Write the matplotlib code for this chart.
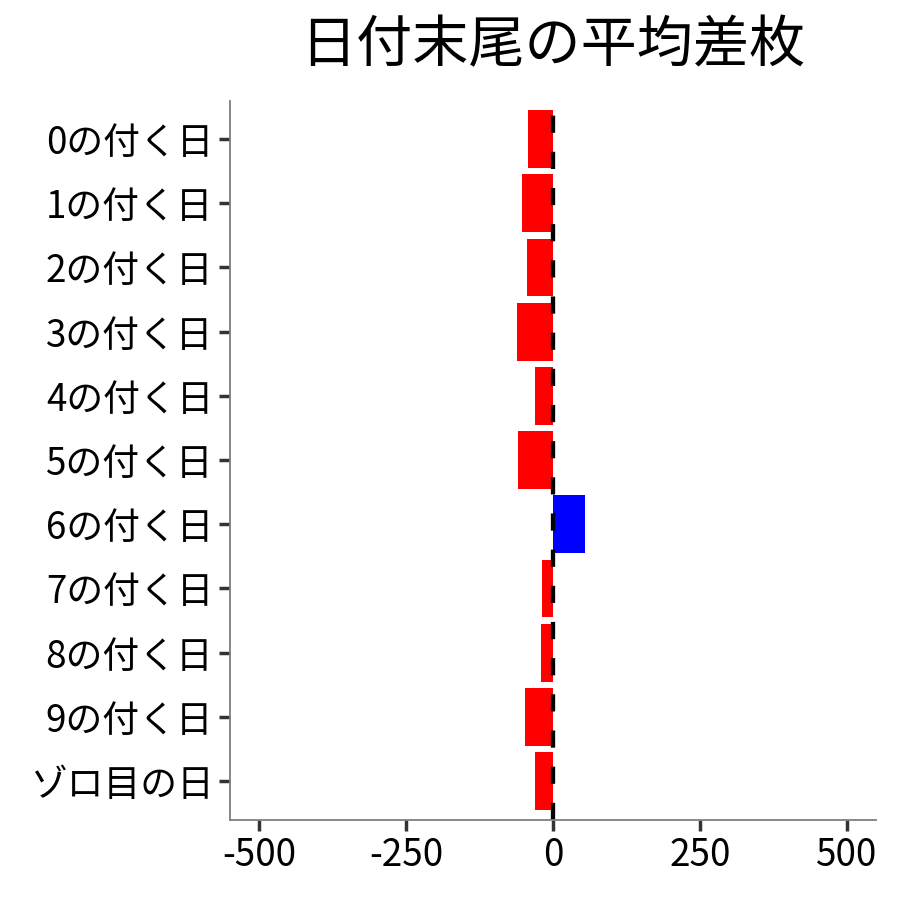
import matplotlib
matplotlib.use("Agg")
import matplotlib.pyplot as plt

plt.rcParams['font.family'] = ['Noto Sans CJK JP', 'DejaVu Sans']

categories = ["0の付く日", "1の付く日", "2の付く日", "3の付く日", "4の付く日",
              "5の付く日", "6の付く日", "7の付く日", "8の付く日", "9の付く日", "ゾロ目の日"]
values = [-43, -53, -45, -62, -31, -60, 54, -18, -21, -48, -31]
xticks = [-500, -250, 0, 250, 500]
xticklabels = ["-500", "-250", "0", "250", "500"]

fig = plt.figure(figsize=(9, 9), dpi=100)
ax = fig.add_axes([0.2556, 0.0894, 0.7178, 0.7989])

ypos = list(range(len(categories)))
colors = ["blue" if v > 0 else "red" for v in values]
ax.barh(ypos, values, height=0.9, color=colors, zorder=1)
ax.axvline(0, color="black", linewidth=3.1, linestyle=(0, (4.0, 4.4)), zorder=2)

ax.set_xlim(-550, 550)
ax.set_ylim(len(categories) - 0.4, -0.6)
ax.set_yticks(ypos)
ax.set_yticklabels(categories)
ax.set_xticks(xticks)
ax.set_xticklabels(xticklabels)

for s in ["top", "right"]:
    ax.spines[s].set_visible(False)
for s in ["left", "bottom"]:
    ax.spines[s].set_color("#7f7f7f")
    ax.spines[s].set_linewidth(1.3)

ax.tick_params(axis="both", length=8, width=2.5, color="#333333",
               labelsize=26.5, labelcolor="black", pad=4)

fig.suptitle("日付末尾の平均差枚", x=0.6144, y=0.98, fontsize=40.4, va="top")

fig.savefig("out.png", dpi=100)
